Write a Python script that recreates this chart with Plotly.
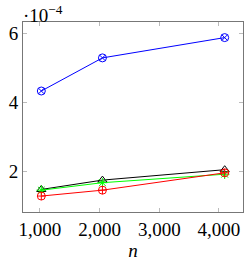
import plotly.graph_objects as go

n_values = [1024, 2048, 4096]
# values in units of 1e-4
blue_vals = [4.33, 5.285, 5.87]
black_vals = [1.49, 1.76, 2.06]
green_vals = [1.47, 1.685, 1.93]
red_vals = [1.30, 1.47, 1.97]

x_tickvals = [1000, 2000, 3000, 4000]
y_tickvals = [2, 4, 6]
y_ticktext = ["2", "4", "6"]

series = [
    ("blue", blue_vals, "#0000ff", "circle-x-open"),
    ("black", black_vals, "#000000", "triangle-up-open"),
    ("green", green_vals, "#00ff00", "asterisk-open"),
    ("red", red_vals, "#ff0000", "circle-cross-open"),
]

fig = go.Figure()
for name, vals, col, sym in series:
    fig.add_trace(go.Scatter(
        x=n_values, y=vals, mode="lines+markers", name=name,
        line=dict(color=col, width=1),
        marker=dict(symbol=sym, size=8, color=col, line=dict(color=col, width=1)),
    ))

font = dict(family="Liberation Serif", size=19, color="#000000")

fig.update_layout(
    width=248, height=263,
    margin=dict(l=23, r=5, t=22, b=51, autoexpand=False),
    paper_bgcolor="white", plot_bgcolor="white",
    showlegend=False,
    font=font,
    xaxis=dict(
        range=[717, 4403], tickvals=x_tickvals, tickformat=",",
        ticks="inside", ticklen=4, tickcolor="#bbbbbb", tickwidth=1,
        showline=True, linecolor="#777777", linewidth=1, mirror="ticks",
        showgrid=False, zeroline=False, automargin=False,
        title=dict(text="<i>n</i>", standoff=4, font=font),
    ),
    yaxis=dict(
        range=[0.84, 6.32], tickvals=y_tickvals, ticktext=y_ticktext,
        ticks="inside", ticklen=4, tickcolor="#bbbbbb", tickwidth=1,
        showline=True, linecolor="#777777", linewidth=1, mirror="ticks",
        showgrid=False, zeroline=False, automargin=False,
    ),
    annotations=[dict(
        text="·10<sup>−4</sup>", xref="paper", yref="paper",
        x=0.0, y=1.0, xanchor="left", yanchor="bottom", xshift=-2, yshift=-6,
        showarrow=False, font=font,
    )],
)

fig.write_html(
    "out.html",
    config={"displayModeBar": False},
    post_script="document.body.style.margin='0px';document.body.style.overflow='hidden';",
)
